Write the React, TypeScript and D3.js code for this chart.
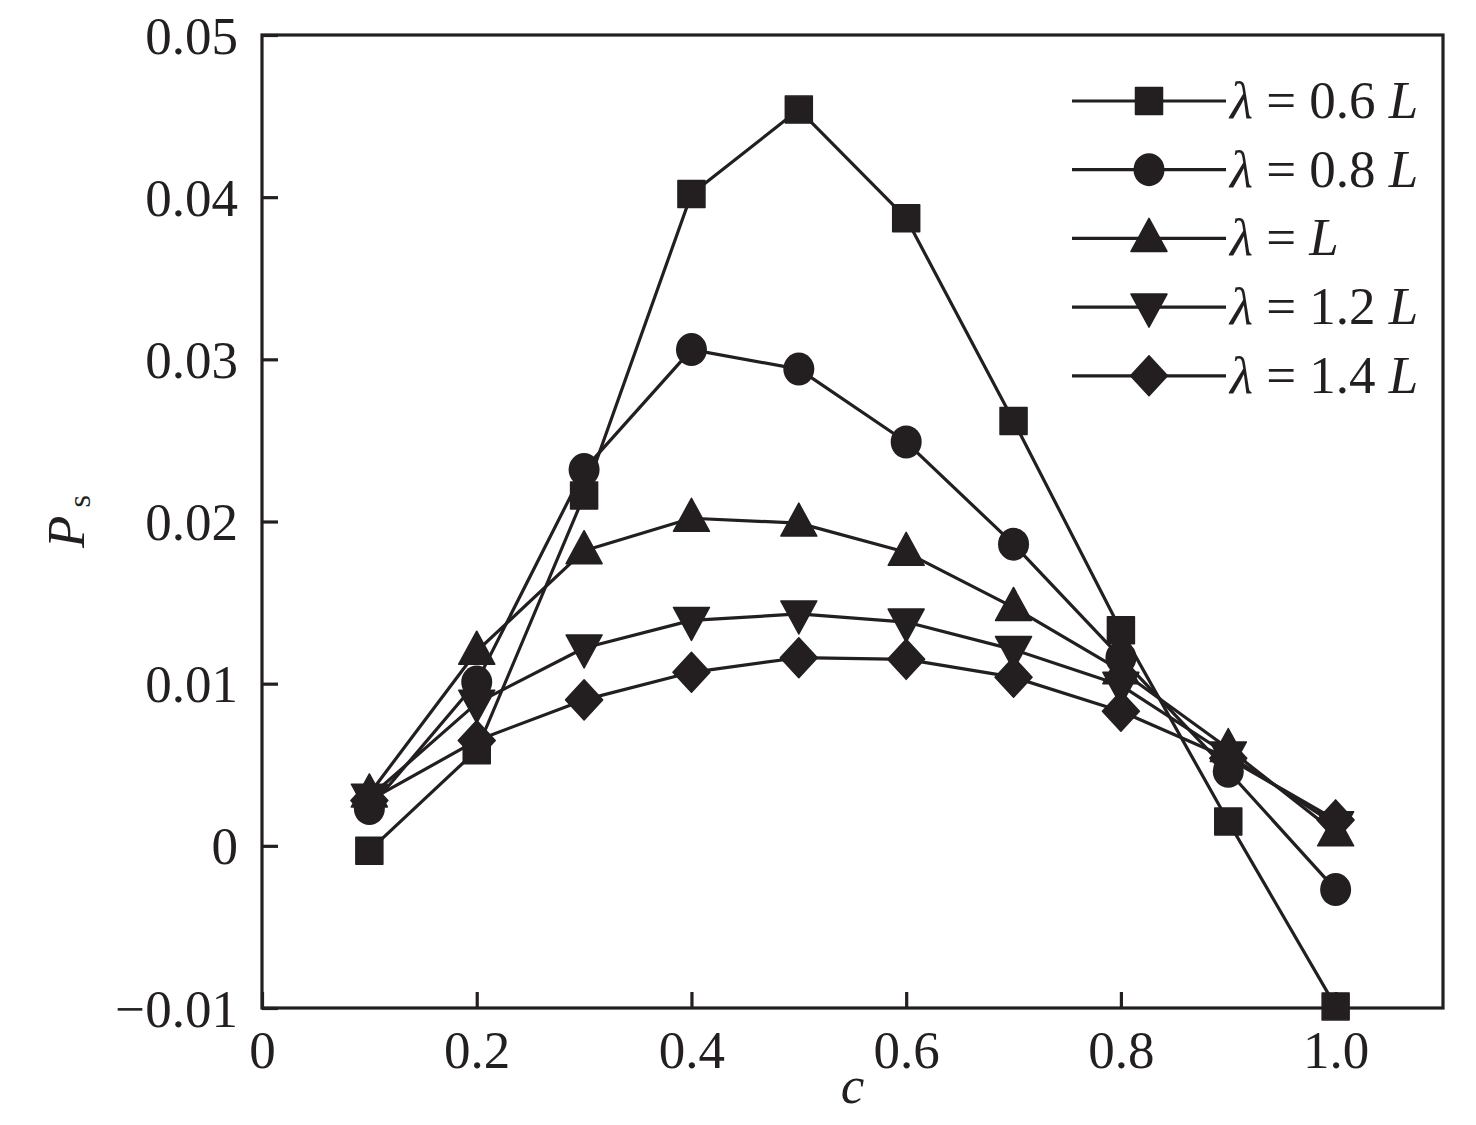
import { useEffect, useRef } from "react";
import * as d3 from "d3";

// c values shared by every series
const C_VALUES = [0.1, 0.2, 0.3, 0.4, 0.5, 0.6, 0.7, 0.8, 0.9, 1.0];

// P_s, one array per wavelength
const PS_06 = [-0.0003, 0.0059, 0.0216, 0.0402, 0.0454, 0.0387, 0.0262, 0.0133, 0.0015, -0.0099];
const PS_08 = [0.0023, 0.0101, 0.0232, 0.0306, 0.0294, 0.0249, 0.0186, 0.0116, 0.0046, -0.0027];
const PS_10 = [0.0032, 0.012, 0.0182, 0.0202, 0.0199, 0.0181, 0.0147, 0.0108, 0.006, 0.0008];
const PS_12 = [0.003, 0.0088, 0.0122, 0.0139, 0.0143, 0.0138, 0.0121, 0.0099, 0.0056, 0.0013];
const PS_14 = [0.0028, 0.0065, 0.009, 0.0107, 0.0116, 0.0115, 0.0104, 0.0083, 0.0054, 0.0016];

const SERIES_LABELS = ["0.6 ", "0.8 ", "", "1.2 ", "1.4 "];
const SERIES_MARKERS = ["square", "circle", "triangleUp", "triangleDown", "diamond"];
const SERIES_VALUES = [PS_06, PS_08, PS_10, PS_12, PS_14];

const X_TICKS = [0, 0.2, 0.4, 0.6, 0.8, 1.0];
const Y_TICKS = [-0.01, 0, 0.01, 0.02, 0.03, 0.04, 0.05];

const INK = "#231f20";
const FONT = "'Liberation Serif', 'Times New Roman', serif";

/** Marker outline centred on (0,0) */
function markerPath(kind: string): string {
  const p = d3.path();
  if (kind === "square") {
    const h = 13.5;
    p.rect(-h, -h, 2 * h, 2 * h);
  } else if (kind === "triangleUp") {
    p.moveTo(0, -20); p.lineTo(18, 13); p.lineTo(-18, 13); p.closePath();
  } else if (kind === "triangleDown") {
    p.moveTo(0, 20); p.lineTo(18, -13); p.lineTo(-18, -13); p.closePath();
  } else {
    p.moveTo(0, -20); p.lineTo(18.5, 0); p.lineTo(0, 20); p.lineTo(-18.5, 0); p.closePath();
  }
  return p.toString();
}

function drawMarker(sel: d3.Selection<SVGGElement, unknown, null, undefined>, kind: string, cx: number, cy: number) {
  if (kind === "circle") {
    sel.append("ellipse").attr("cx", cx).attr("cy", cy).attr("rx", 15.5).attr("ry", 16.5).attr("fill", INK);
  } else {
    sel.append("path")
      .attr("d", markerPath(kind))
      .attr("transform", `translate(${cx},${cy})`)
      .attr("fill", INK)
      .attr("stroke", INK)
      .attr("stroke-width", 1.5)
      .attr("stroke-linejoin", "round");
  }
}

export default function App() {
  const svgRef = useRef<SVGSVGElement>(null);

  useEffect(() => {
    if (!svgRef.current) return;
    const svg = d3.select(svgRef.current);
    svg.selectAll("*").remove();

    const width = 1476;
    const height = 1125;
    const left = 262, right = 1443, top = 35, bottom = 1008;

    const x = d3.scaleLinear().domain([0, 1.1]).range([left, right]);
    const y = d3.scaleLinear().domain([-0.01, 0.05]).range([bottom, top]);

    svg.attr("width", width).attr("height", height);
    svg.append("rect").attr("width", width).attr("height", height).attr("fill", "#fff");

    // Frame
    svg.append("rect")
      .attr("x", left).attr("y", top)
      .attr("width", right - left).attr("height", bottom - top)
      .attr("fill", "none").attr("stroke", INK).attr("stroke-width", 3.2);

    const fmtX = (v: number) => (v === 0 ? "0" : v.toFixed(1));
    const fmtY = (v: number) => (v === 0 ? "0" : v < 0 ? "\u2212" + Math.abs(v).toFixed(2) : v.toFixed(2));

    // Bottom axis, ticks pointing inward
    svg.append("g")
      .attr("transform", `translate(0,${bottom})`)
      .call(d3.axisBottom(x).tickValues(X_TICKS).tickSize(-16).tickPadding(30).tickFormat((d) => fmtX(+d)))
      .call((sel) => {
        sel.select(".domain").remove();
        sel.selectAll(".tick line").attr("stroke", INK).attr("stroke-width", 3.2);
        sel.selectAll(".tick text")
          .attr("fill", INK).attr("font-family", FONT).attr("font-size", "53px")
          .attr("dy", "0.71em").attr("y", 22);
      });

    // Left axis
    svg.append("g")
      .attr("transform", `translate(${left},0)`)
      .call(d3.axisLeft(y).tickValues(Y_TICKS).tickSize(-16).tickPadding(24).tickFormat((d) => fmtY(+d)))
      .call((sel) => {
        sel.select(".domain").remove();
        sel.selectAll(".tick line").attr("stroke", INK).attr("stroke-width", 3.2);
        sel.selectAll(".tick text")
          .attr("fill", INK).attr("font-family", FONT).attr("font-size", "53px")
          .attr("x", -24).attr("dy", "0.34em");
      });

    // Axis titles
    svg.append("text")
      .attr("x", (left + right) / 2).attr("y", 1103)
      .attr("text-anchor", "middle").attr("fill", INK)
      .attr("font-family", FONT).attr("font-size", "53px").attr("font-style", "italic")
      .text("c");

    const yTitle = svg.append("text")
      .attr("transform", `translate(84,${(top + bottom) / 2}) rotate(-90)`)
      .attr("text-anchor", "middle").attr("fill", INK)
      .attr("font-family", FONT).attr("font-size", "53px");
    yTitle.append("tspan").attr("font-style", "italic").text("P");
    yTitle.append("tspan").attr("font-size", "32px").attr("dx", 8).attr("dy", 6).text("s");

    // Series
    const line = d3.line<number>().x((_, i) => x(C_VALUES[i])).y((d) => y(d));
    const plot = svg.append("g");
    SERIES_VALUES.forEach((vals) => {
      plot.append("path")
        .attr("d", line(vals) ?? "")
        .attr("fill", "none").attr("stroke", INK).attr("stroke-width", 3.2)
        .attr("stroke-linejoin", "round");
    });
    SERIES_VALUES.forEach((vals, s) => {
      const g = plot.append("g");
      vals.forEach((v, i) => drawMarker(g, SERIES_MARKERS[s], x(C_VALUES[i]), y(v)));
    });

    // Legend
    const legend = svg.append("g");
    SERIES_LABELS.forEach((label, s) => {
      const ry = 101 + s * 68.7;
      const g = legend.append("g");
      g.append("line")
        .attr("x1", 1072).attr("x2", 1226).attr("y1", ry).attr("y2", ry)
        .attr("stroke", INK).attr("stroke-width", 3.2);
      drawMarker(g, SERIES_MARKERS[s], 1149, ry);
      const t = g.append("text")
        .attr("x", 1230).attr("y", ry + 17)
        .attr("fill", INK).attr("font-family", FONT).attr("font-size", "53px");
      t.append("tspan").attr("font-style", "italic").text("\u03bb");
      t.append("tspan").text(` = ${label}`);
      t.append("tspan").attr("font-style", "italic").text("L");
    });
  }, []);

  return (
    <div style={{ position: "absolute", left: 0, top: 0 }}>
      <svg ref={svgRef} style={{ display: "block" }} />
    </div>
  );
}
